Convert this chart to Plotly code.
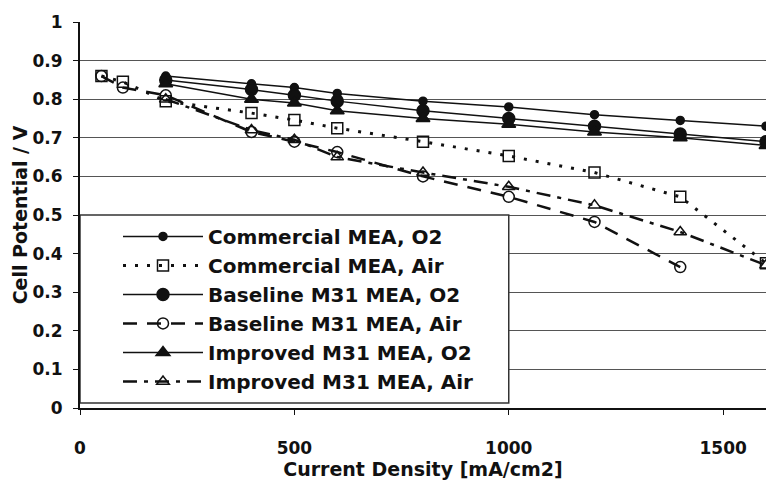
import plotly.graph_objects as go

x_o2 = [200, 400, 500, 600, 800, 1000, 1200, 1400, 1600]
commercial_o2 = [0.86, 0.84, 0.83, 0.815, 0.795, 0.78, 0.76, 0.745, 0.73]
baseline_o2 = [0.85, 0.825, 0.81, 0.795, 0.77, 0.75, 0.73, 0.71, 0.69]
improved_o2 = [0.84, 0.80, 0.79, 0.77, 0.75, 0.735, 0.715, 0.70, 0.68]

x_comm_air = [50, 100, 200, 400, 500, 600, 800, 1000, 1200, 1400, 1600]
commercial_air = [0.86, 0.845, 0.795, 0.764, 0.746, 0.725, 0.69, 0.653, 0.61, 0.547, 0.375]

x_base_air = [50, 100, 200, 400, 500, 600, 800, 1000, 1200, 1400]
baseline_air = [0.86, 0.83, 0.81, 0.715, 0.69, 0.663, 0.60, 0.547, 0.482, 0.365]

x_imp_air = [200, 400, 500, 600, 800, 1000, 1200, 1400, 1600]
improved_air = [0.80, 0.72, 0.695, 0.65, 0.61, 0.573, 0.525, 0.456, 0.37]

names = ["Commercial MEA, O2", "Commercial MEA, Air", "Baseline M31 MEA, O2",
         "Baseline M31 MEA, Air", "Improved M31 MEA, O2", "Improved M31 MEA, Air"]

FONT = "DejaVu Sans"
INK = "#111"
fig = go.Figure()

def add(xs, ys, name, symbol, size, dash, width):
    fig.add_trace(go.Scatter(
        x=xs, y=ys, name=name, mode="lines+markers",
        line=dict(color=INK, width=width, dash=dash),
        marker=dict(symbol=symbol, size=size, color=INK,
                    line=dict(color=INK, width=1.5)),
        cliponaxis=True,
    ))

add(x_o2, commercial_o2, names[0], "circle", 8, "solid", 1.5)
add(x_comm_air, commercial_air, names[1], "square-open", 11, "3px,9px", 3)
add(x_o2, baseline_o2, names[2], "circle", 12, "solid", 1.5)
add(x_base_air, baseline_air, names[3], "circle-open", 11, "14px,10px", 2.5)
add(x_o2, improved_o2, names[4], "triangle-up", 12, "solid", 1.5)
add(x_imp_air, improved_air, names[5], "triangle-up-open", 11, "14px,7px,4px,7px", 2.5)

# legend frame (white box with border, spanning 0..1000 on x and the lower half on y)
fig.add_shape(type="rect", xref="x", yref="y", x0=0, x1=1000, y0=0.013, y1=0.5,
              fillcolor="white", line=dict(color="#333", width=1.5), layer="above")

fig.update_layout(
    width=766, height=487,
    margin=dict(l=80, r=0, t=22, b=79, autoexpand=False),
    paper_bgcolor="white", plot_bgcolor="white",
    font=dict(family=FONT, color=INK, size=17, weight="bold"),
    showlegend=True,
    legend=dict(
        x=0, y=0.495, xanchor="left", yanchor="top",
        bgcolor="rgba(0,0,0,0)", borderwidth=0,
        font=dict(family=FONT, size=20, color=INK, weight="bold"),
        indentation=38, itemwidth=80, tracegroupgap=0,
    ),
    xaxis=dict(
        range=[0, 1600], tickvals=[0, 500, 1000, 1500],
        showgrid=False, zeroline=False, automargin=False,
        showline=True, linecolor=INK, linewidth=2,
        ticks="outside", ticklen=5, tickcolor=INK,
        ticklabelstandoff=19,
        tickfont=dict(family=FONT, size=17, weight="bold"),
        title=dict(text="Current Density [mA/cm2]", standoff=0,
                   font=dict(family=FONT, size=19, weight="bold")),
    ),
    yaxis=dict(
        range=[0, 1], dtick=0.1, tickformat="~g",
        showgrid=True, gridcolor="#555", gridwidth=1,
        zeroline=False, automargin=False,
        showline=True, linecolor=INK, linewidth=2,
        ticks="outside", ticklen=5, tickcolor=INK,
        ticklabelstandoff=7,
        tickfont=dict(family=FONT, size=17, weight="bold"),
        title=dict(text="Cell Potential / V", standoff=0,
                   font=dict(family=FONT, size=19, weight="bold")),
    ),
)

fig.write_html(
    "out.html",
    config={"displayModeBar": False},
    post_script="document.body.style.margin='0';document.body.style.overflow='hidden';",
)
